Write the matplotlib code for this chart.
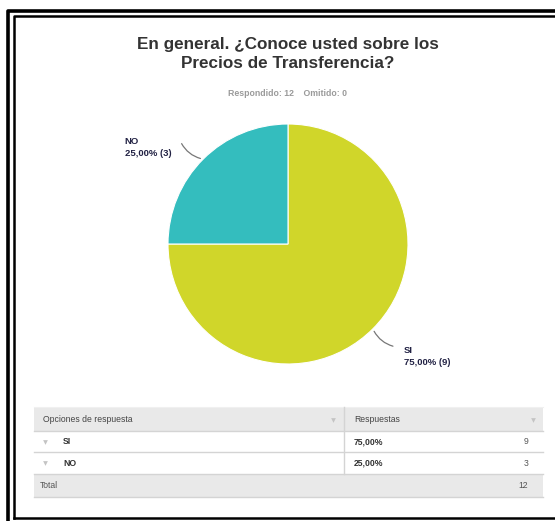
import matplotlib
matplotlib.use("Agg")
import matplotlib.pyplot as plt
from matplotlib.patches import Rectangle
import numpy as np

plt.rcParams['font.family'] = ['Liberation Sans', 'DejaVu Sans']

# Survey data
categories = ["SI", "NO"]
counts = [9, 3]
percent_labels = ["75,00%", "25,00%"]
title = "En general. ¿Conoce usted sobre los\nPrecios de Transferencia?"
answered = 12
skipped = 0
colors = ["#d0d62a", "#34bdbe"]

W, H = 555, 521
fig = plt.figure(figsize=(W / 100, H / 100), dpi=100)
fig.patch.set_facecolor("white")

# Full-figure overlay in pixel coordinates for frame, titles and table
bg = fig.add_axes([0, 0, 1, 1])
bg.set_xlim(0, W)
bg.set_ylim(H, 0)
bg.axis("off")

# Double black frame
bg.plot([8, 8, 555], [521, 11, 11], color="black", lw=2.6, solid_joinstyle="round")
bg.plot([14, 14, 555], [518, 16, 16], color="black", lw=1.8)
bg.plot([14, 555], [518, 518], color="black", lw=1.8)

# Titles
bg.text(288, 54, title, ha="center", va="center", fontsize=12.3, fontweight="bold",
        color="#333333", linespacing=1.25)
bg.text(288, 93, f"Respondido: {answered}    Omitido: {skipped}", ha="center", va="center",
        fontsize=6.3, fontweight="bold", color="#9a9a9a")

# Pie chart
cx, cy, r = 288, 244, 120
pie_ax = fig.add_axes([(cx - r) / W, (H - cy - r) / H, 2 * r / W, 2 * r / H])
wedges, _ = pie_ax.pie(counts, colors=colors, startangle=90, counterclock=False,
                       radius=1.0, wedgeprops=dict(linewidth=0.8, edgecolor="white"))
pie_ax.set_xlim(-1, 1)
pie_ax.set_ylim(-1, 1)
pie_ax.set_aspect("equal")
pie_ax.axis("off")

total = sum(counts)
for w, cat, pct, n in zip(wedges, categories, percent_labels, counts):
    mid = np.deg2rad((w.theta1 + w.theta2) / 2)
    ex, ey = np.cos(mid), np.sin(mid)
    side = -1 if ex < 0 else 1
    end = (ex + side * 0.19, ey + 0.15 * np.sign(ey))
    pie_ax.annotate("", xy=(ex, ey), xytext=end,
                    arrowprops=dict(arrowstyle="-", color="#777777", lw=0.9,
                                    connectionstyle=f"arc3,rad={-0.25 * side}"),
                    annotation_clip=False)
    if side < 0:
        pie_ax.text(end[0] - 0.075, end[1] - 0.05, f"{cat}\n{pct} ({n})",
                    ha="right", va="center", multialignment="left",
                    fontsize=6.8, fontweight="bold", color="#222244", linespacing=1.4,
                    clip_on=False)
    else:
        pie_ax.text(end[0] + 0.07, end[1] + 0.005, f"{cat}\n{pct} ({n})",
                    ha="left", va="top", multialignment="left",
                    fontsize=6.8, fontweight="bold", color="#222244", linespacing=1.4,
                    clip_on=False)

# Response table
x0, xm, x1 = 34, 344, 543
rows_y = [407, 431, 452, 474, 497]
grey = "#e9e9e9"
line = "#d4d4d4"
bg.add_patch(Rectangle((x0, rows_y[0]), x1 - x0, rows_y[1] - rows_y[0], facecolor=grey, edgecolor="none"))
bg.add_patch(Rectangle((x0, rows_y[3]), x1 - x0, rows_y[4] - rows_y[3], facecolor=grey, edgecolor="none"))
for yy in rows_y[1:]:
    bg.plot([x0, x1], [yy, yy], color=line, lw=1.0)
bg.plot([x0, x1], [rows_y[0], rows_y[0]], color="#f0f0f0", lw=0.8)
bg.plot([xm, xm], [rows_y[0], rows_y[3]], color=line, lw=1.0)

fs = 6.2
def hy(i):
    return (rows_y[i] + rows_y[i + 1]) / 2

bg.text(43, hy(0), "Opciones de respuesta", ha="left", va="center", fontsize=fs, color="#444444")
bg.text(354, hy(0), "Respuestas", ha="left", va="center", fontsize=fs, color="#444444")
for xx in (333, 533):
    bg.plot([xx], [hy(0) + 0.5], marker="v", markersize=3.4, color="#c4c4c4", mec="none")

for i, (cat, pct, n) in enumerate(zip(categories, percent_labels, counts)):
    y = hy(i + 1)
    bg.plot([45], [y], marker="v", markersize=3.4, color="#c4c4c4", mec="none")
    bg.text(63, y, cat, ha="left", va="center", fontsize=fs, fontweight="bold", color="#333333")
    bg.text(354, y, pct, ha="left", va="center", fontsize=fs, fontweight="bold", color="#333333")
    bg.text(528, y, str(n), ha="right", va="center", fontsize=fs, color="#555555")

bg.text(40, hy(3), "Total", ha="left", va="center", fontsize=fs, color="#555555")
bg.text(528, hy(3), str(total), ha="right", va="center", fontsize=fs, color="#555555")

fig.savefig("out.png", dpi=100)
